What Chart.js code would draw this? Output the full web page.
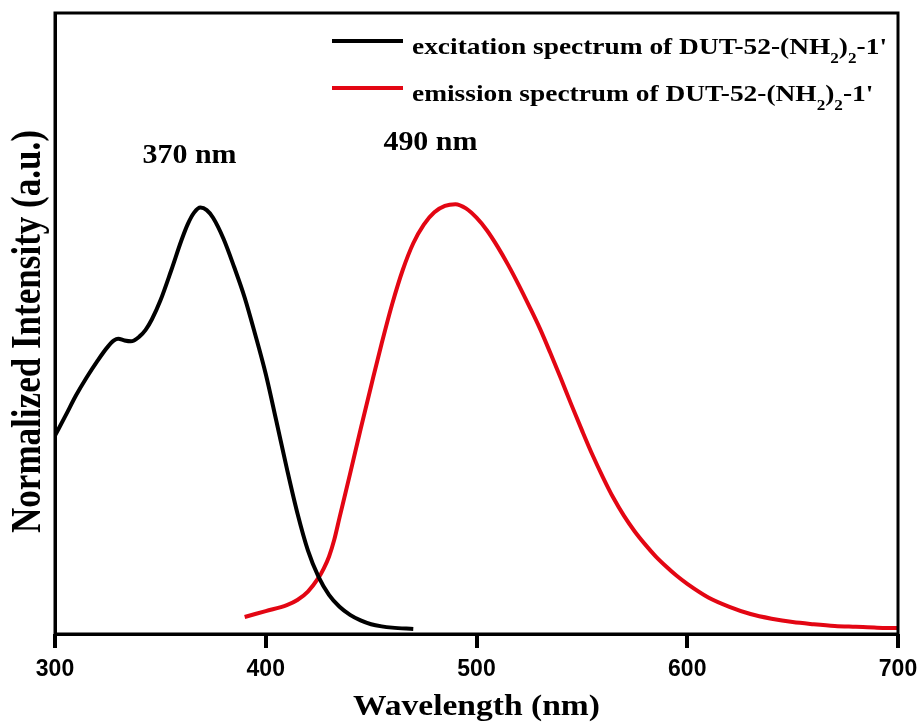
<!DOCTYPE html>
<html lang="en">
<head>
<meta charset="UTF-8">
<title>DUT-52-(NH2)2-1' excitation / emission spectra</title>
<style>
  html, body { margin: 0; padding: 0; background: #fff; }
  #wrap { width: 921px; height: 724px; }
</style>
</head>
<body>
<div id="wrap"><canvas id="specChart"></canvas></div>

<script src="https://cdn.jsdelivr.net/npm/chart.js"></script>
<script>
  // wavelength ticks (nm)
  const xTicks = [300, 400, 500, 600, 700];

  // excitation spectrum (black)
  const excNm  = [300, 305, 310, 315, 320, 325, 328, 330, 333, 336, 340, 343, 346, 350, 355, 360, 363, 366, 369, 372, 375, 380, 385, 390, 395, 400, 405, 410, 415, 420, 425, 430, 435, 440, 445, 450, 455, 460, 470];
  const excInt = [0.455, 0.502, 0.550, 0.592, 0.630, 0.664, 0.679, 0.683, 0.679, 0.677, 0.688, 0.704, 0.729, 0.773, 0.842, 0.915, 0.953, 0.980, 0.992, 0.986, 0.968, 0.918, 0.852, 0.780, 0.693, 0.600, 0.490, 0.378, 0.273, 0.185, 0.123, 0.080, 0.052, 0.033, 0.020, 0.011, 0.006, 0.003, 0.000];

  // emission spectrum (red)
  const emNm  = [390, 400, 410, 415, 420, 425, 427.5, 430, 432.5, 435, 440, 445, 450, 455, 460, 465, 470, 475, 480, 485, 490, 495, 500, 505, 510, 515, 520, 525, 530, 535, 540, 545, 550, 555, 560, 565, 570, 575, 580, 585, 590, 595, 600, 610, 620, 630, 640, 650, 660, 670, 680, 690, 700];
  const emInt = [0.028, 0.042, 0.056, 0.068, 0.088, 0.120, 0.142, 0.170, 0.210, 0.262, 0.365, 0.470, 0.572, 0.672, 0.765, 0.845, 0.908, 0.952, 0.981, 0.996, 1.000, 0.990, 0.968, 0.938, 0.900, 0.857, 0.810, 0.760, 0.708, 0.650, 0.590, 0.528, 0.468, 0.410, 0.357, 0.308, 0.266, 0.230, 0.199, 0.171, 0.147, 0.125, 0.106, 0.074, 0.052, 0.035, 0.024, 0.016, 0.011, 0.007, 0.005, 0.003, 0.002];

  const peakNm = [370, 490];

  const serif = '"Liberation Serif", "Times New Roman", serif';
  const RED = '#e30613';

  // legend entries, split so the subscripts can be drawn smaller
  const legendParts = [
    [['excitation spectrum of DUT-52-(NH'], ['2', 1], [')'], ['2', 1], ["-1'"]],
    [['emission spectrum of DUT-52-(NH'], ['2', 1], [')'], ['2', 1], ["-1'"]]
  ];

  function richWidth(ctx, parts, size) {
    let w = 0;
    parts.forEach(([t, sub]) => {
      ctx.font = 'bold ' + (sub ? Math.round(size * 0.62) : size) + 'px ' + serif;
      w += ctx.measureText(t).width;
    });
    return w;
  }

  function drawRich(ctx, parts, x, y, size, sx) {
    ctx.save();
    ctx.translate(x, y);
    ctx.scale(sx, 1);
    ctx.textAlign = 'left';
    ctx.textBaseline = 'alphabetic';
    ctx.fillStyle = '#000';
    let cx = 0;
    parts.forEach(([t, sub]) => {
      ctx.font = 'bold ' + (sub ? Math.round(size * 0.62) : size) + 'px ' + serif;
      ctx.fillText(t, cx, sub ? size * 0.36 : 0);
      cx += ctx.measureText(t).width;
    });
    ctx.restore();
  }

  // plain text stretched to a given width
  function drawFit(ctx, text, x, y, size, width) {
    ctx.save();
    ctx.font = 'bold ' + size + 'px ' + serif;
    const sx = width / ctx.measureText(text).width;
    ctx.translate(x, y);
    ctx.scale(sx, 1);
    ctx.textAlign = 'left';
    ctx.textBaseline = 'alphabetic';
    ctx.fillStyle = '#000';
    ctx.fillText(text, 0, 0);
    ctx.restore();
  }

  const decorations = {
    id: 'decorations',
    afterDraw(chart) {
      const ctx = chart.ctx;
      const a = chart.chartArea;
      const xs = chart.scales.x;

      // frame
      ctx.save();
      ctx.strokeStyle = '#000';
      ctx.lineWidth = 3;
      ctx.strokeRect(a.left, a.top, a.right - a.left, a.bottom - a.top);

      // outward tick marks under the wavelength axis
      ctx.fillStyle = '#000';
      xTicks.forEach(v => {
        const px = Math.round(xs.getPixelForValue(v));
        ctx.fillRect(px - 2, a.bottom, 4, 14);
      });
      ctx.restore();

      // legend
      const colors = ['#000', RED];
      const sx = (887 - 412) / richWidth(ctx, legendParts[0], 24);
      legendParts.forEach((parts, i) => {
        const ly = 41 + i * 47;
        ctx.save();
        ctx.strokeStyle = colors[i];
        ctx.lineWidth = 4;
        ctx.beginPath();
        ctx.moveTo(332, ly);
        ctx.lineTo(403, ly);
        ctx.stroke();
        ctx.restore();
        drawRich(ctx, parts, 412, ly + 13, 24, sx);
      });

      // peak labels above each maximum
      drawFit(ctx, peakNm[0] + ' nm', xs.getPixelForValue(peakNm[0]) - 60, 163, 27, 94);
      drawFit(ctx, peakNm[1] + ' nm', xs.getPixelForValue(peakNm[1]) - 72, 150, 27, 94);

      // axis titles
      drawFit(ctx, 'Wavelength (nm)', 353, 715, 30, 247);

      const yt = 'Normalized Intensity (a.u.)';
      ctx.save();
      ctx.font = 'bold 35px ' + serif;
      const len = 403 / ctx.measureText(yt).width;
      ctx.translate(40, 533);
      ctx.scale(1.2, len);
      ctx.rotate(-Math.PI / 2);
      ctx.textAlign = 'left';
      ctx.textBaseline = 'alphabetic';
      ctx.fillStyle = '#000';
      ctx.fillText(yt, 0, 0);
      ctx.restore();
    }
  };

  new Chart(document.getElementById('specChart'), {
    type: 'line',
    data: {
      datasets: [{
        label: 'excitation',
        data: excNm.map((x, i) => ({ x, y: excInt[i] })),
        borderColor: '#000',
        borderWidth: 4,
        pointRadius: 0,
        cubicInterpolationMode: 'monotone'
      }, {
        label: 'emission',
        data: emNm.map((x, i) => ({ x, y: emInt[i] })),
        borderColor: RED,
        borderWidth: 4,
        pointRadius: 0,
        cubicInterpolationMode: 'monotone'
      }]
    },
    options: {
      responsive: true,
      maintainAspectRatio: false,
      animation: false,
      layout: { padding: { top: 13, right: 23, left: 0, bottom: 0 } },
      plugins: {
        legend: { display: false },
        tooltip: { enabled: false }
      },
      scales: {
        x: {
          type: 'linear',
          min: 300,
          max: 700,
          afterBuildTicks(s) { s.ticks = xTicks.map(v => ({ value: v })); },
          afterFit(s) {
            s.height = 90;
            s.paddingLeft = 0;
            s.paddingRight = 0;
          },
          grid: { drawOnChartArea: false, color: 'rgba(0,0,0,0)', tickLength: 13 },
          border: { display: true, color: '#000', width: 3 },
          ticks: {
            color: '#000',
            padding: 9,
            maxRotation: 0,
            font: { family: '"Liberation Sans", Arial, sans-serif', size: 23, weight: 'bold' }
          }
        },
        y: {
          min: -0.012,
          max: 1.45,
          afterFit(s) { s.width = 55; },
          grid: { display: false },
          border: { display: true, color: '#000', width: 3 },
          ticks: { display: false }
        }
      }
    },
    plugins: [decorations]
  });
</script>
</body>
</html>
